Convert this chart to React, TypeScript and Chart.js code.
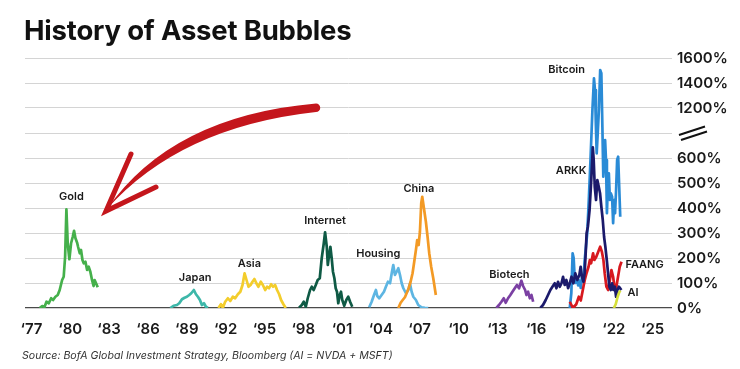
import React, { useEffect, useRef } from "react";
import { Chart, registerables } from "chart.js";
Chart.register(...registerables);

const titleText = "History of Asset Bubbles";
const sourceText = "Source: BofA Global Investment Strategy, Bloomberg (AI = NVDA + MSFT)";

const yTickLabels = ["0%", "100%", "200%", "300%", "400%", "500%", "600%", "", "1200%", "1400%", "1600%"];
const xTickYears = [1977, 1980, 1983, 1986, 1989, 1992, 1995, 1998, 2001, 2004, 2007, 2010, 2013, 2016, 2019, 2022, 2025];

const gold: [number, number][] = [[1977.64,0],[1977.83,8],[1978.0,3],[1978.16,25],[1978.34,19],[1978.52,39],[1978.67,32],[1978.85,45],[1979.03,52],[1979.18,72],[1979.37,112],[1979.49,125],[1979.6,205],[1979.7,395],[1979.8,259],[1979.93,195],[1980.06,259],[1980.19,285],[1980.29,309],[1980.4,279],[1980.53,261],[1980.6,245],[1980.73,219],[1980.83,232],[1980.94,192],[1981.04,179],[1981.17,185],[1981.3,152],[1981.42,165],[1981.55,145],[1981.68,112],[1981.8,88],[1981.88,112],[1981.99,99],[1982.12,83]];
const japan: [number, number][] = [[1987.73,0],[1987.98,9],[1988.24,12],[1988.42,19],[1988.63,35],[1988.83,41],[1989.01,45],[1989.19,52],[1989.35,59],[1989.55,72],[1989.71,55],[1989.86,45],[1990.02,32],[1990.17,12],[1990.33,19],[1990.48,5],[1990.63,0]];
const asia: [number, number][] = [[1991.45,0],[1991.64,15],[1991.79,1],[1991.97,25],[1992.18,39],[1992.36,28],[1992.56,45],[1992.74,39],[1992.95,55],[1993.14,65],[1993.31,92],[1993.47,139],[1993.62,112],[1993.77,85],[1993.93,92],[1994.08,105],[1994.23,116],[1994.38,99],[1994.54,85],[1994.72,105],[1994.88,92],[1995.06,72],[1995.21,85],[1995.36,79],[1995.52,95],[1995.67,85],[1995.83,92],[1995.98,72],[1996.14,55],[1996.29,32],[1996.47,15],[1996.65,0]];
const internet: [number, number][] = [[1997.68,1],[1997.89,12],[1998.04,25],[1998.2,5],[1998.35,39],[1998.53,72],[1998.66,85],[1998.81,72],[1998.97,92],[1999.12,112],[1999.28,119],[1999.43,199],[1999.59,259],[1999.69,303],[1999.82,245],[1999.9,172],[2000.0,212],[2000.1,245],[2000.2,199],[2000.3,145],[2000.41,119],[2000.51,79],[2000.61,65],[2000.71,19],[2000.82,52],[2000.92,65],[2001.02,32],[2001.17,9],[2001.33,32],[2001.48,45],[2001.64,23],[2001.79,5]];
const housing: [number, number][] = [[2003.1,3],[2003.29,25],[2003.47,52],[2003.62,72],[2003.72,48],[2003.88,39],[2004.06,52],[2004.24,65],[2004.39,85],[2004.55,105],[2004.71,99],[2004.86,145],[2004.96,172],[2005.09,132],[2005.22,145],[2005.35,159],[2005.48,132],[2005.61,99],[2005.74,79],[2005.94,59],[2006.12,72],[2006.25,98],[2006.38,65],[2006.51,45],[2006.71,32],[2006.89,12],[2007.15,3],[2007.4,1],[2007.66,0]];
const china: [number, number][] = [[2005.35,0],[2005.53,21],[2005.69,32],[2005.86,43],[2005.99,59],[2006.15,79],[2006.3,105],[2006.45,139],[2006.58,185],[2006.71,232],[2006.81,272],[2006.92,252],[2007.02,305],[2007.12,419],[2007.2,445],[2007.33,399],[2007.48,345],[2007.61,285],[2007.74,219],[2007.89,165],[2008.05,119],[2008.25,52]];
const biotech: [number, number][] = [[2012.93,0],[2013.13,12],[2013.32,25],[2013.5,39],[2013.65,21],[2013.83,39],[2014.01,52],[2014.17,65],[2014.35,79],[2014.52,92],[2014.68,79],[2014.86,109],[2014.99,88],[2015.15,72],[2015.25,52],[2015.38,65],[2015.51,39],[2015.64,52],[2015.77,25]];
const arkk: [number, number][] = [[2016.33,0],[2016.53,12],[2016.74,32],[2016.92,52],[2017.1,72],[2017.26,85],[2017.44,99],[2017.57,79],[2017.69,105],[2017.83,85],[2017.96,99],[2018.08,125],[2018.21,92],[2018.34,112],[2018.47,79],[2018.6,99],[2018.73,125],[2018.88,99],[2019.03,139],[2019.18,112],[2019.34,132],[2019.44,165],[2019.54,125],[2019.65,105],[2019.75,139],[2019.83,219],[2019.9,299],[2020.0,325],[2020.13,392],[2020.26,512],[2020.38,728],[2020.45,592],[2020.53,485],[2020.63,432],[2020.73,512],[2020.84,485],[2020.94,459],[2021.04,405],[2021.15,352],[2021.25,285],[2021.35,245],[2021.46,192],[2021.56,139],[2021.66,85],[2021.77,72],[2021.87,99],[2021.97,72],[2022.08,85],[2022.18,45],[2022.28,72],[2022.39,85],[2022.49,79],[2022.59,72]];
const bitcoin: [number, number][] = [[2018.6,0],[2018.72,60],[2018.82,219],[2018.9,200],[2018.97,130],[2019.05,100],[2019.15,120],[2019.25,90],[2019.35,110],[2019.45,80],[2019.55,130],[2019.65,110],[2019.75,190],[2019.85,245],[2019.95,300],[2020.07,432],[2020.2,592],[2020.35,1176],[2020.47,1437],[2020.55,1344],[2020.62,975],[2020.68,656],[2020.76,896],[2020.85,1176],[2020.95,1504],[2021.04,1478],[2021.12,975],[2021.19,525],[2021.26,592],[2021.33,816],[2021.4,592],[2021.47,379],[2021.54,485],[2021.62,539],[2021.7,432],[2021.77,459],[2021.87,445],[2021.95,339],[2022.03,432],[2022.1,379],[2022.18,472],[2022.26,592],[2022.34,616],[2022.42,485],[2022.5,365]];
const faang: [number, number][] = [[2018.6,25],[2018.85,0],[2019.1,15],[2019.3,45],[2019.45,30],[2019.6,70],[2019.75,110],[2019.9,140],[2020.05,165],[2020.15,192],[2020.25,179],[2020.4,219],[2020.5,192],[2020.65,205],[2020.8,225],[2020.95,245],[2021.08,225],[2021.2,192],[2021.3,139],[2021.43,85],[2021.56,72],[2021.7,112],[2021.82,152],[2021.95,125],[2022.08,72],[2022.2,85],[2022.33,125],[2022.46,165],[2022.6,185]];
const ai: [number, number][] = [[2022.0,0],[2022.15,15],[2022.3,45],[2022.4,60],[2022.5,70]];

// drawing order: first is on top
const seriesNames = ["AI", "ARKK", "FAANG", "Bitcoin", "Biotech", "China", "Housing", "Internet", "Asia", "Japan", "Gold"];
const seriesData = [ai, arkk, faang, bitcoin, biotech, china, housing, internet, asia, japan, gold];
const seriesColors = ["#d5df3a", "#1b1a6b", "#d7191f", "#2a8bd6", "#7b40a3", "#f39a25", "#5db5e2", "#0f5a45", "#f3cd2c", "#3db7a9", "#45b04b"];

// label anchors: [text, year, value %]
const seriesLabels: [string, number, number][] = [
  ["Gold", 1980.09, 444], ["Japan", 1989.65, 121], ["Asia", 1993.84, 179], ["Internet", 1999.69, 349],
  ["Housing", 2003.8, 216], ["China", 2006.94, 479], ["Biotech", 2013.94, 132], ["Bitcoin", 2018.36, 1508],
  ["ARKK", 2018.71, 550], ["FAANG", 2024.38, 172], ["AI", 2023.49, 62],
];

// broken axis: 0-600 linear, 600-1200 compressed into two slots, 1200-1600 at 200 per slot
function toSlot(v: number): number {
  if (v <= 600) return v / 100;
  if (v <= 1200) return 6 + (v - 600) / 300;
  return 8 + (v - 1200) / 200;
}

const FONT = "Inter, 'Noto Sans', sans-serif";

const overlay = {
  id: "overlay",
  afterDraw(chart: any) {
    const { ctx, scales, chartArea } = chart;
    const x = scales.x, y = scales.y;
    ctx.save();
    ctx.fillStyle = "#111";
    ctx.textAlign = "left";
    ctx.textBaseline = "alphabetic";
    ctx.font = `700 27.5px ${FONT}`;
    try { (ctx as any).letterSpacing = "-0.2px"; } catch (e) {}
    ctx.fillText(titleText, 24, 40);
    try { (ctx as any).letterSpacing = "0px"; } catch (e) {}
    ctx.font = `italic 400 10.6px ${FONT}`;
    ctx.fillStyle = "#333";
    ctx.fillText(sourceText, 22, 359);

    ctx.font = `600 11px ${FONT}`;
    ctx.fillStyle = "#1a1a1a";
    ctx.textAlign = "center";
    ctx.textBaseline = "middle";
    seriesLabels.forEach(([t, yr, v]) => {
      ctx.fillText(t, x.getPixelForValue(yr), y.getPixelForValue(toSlot(v)));
    });

    // axis break marks
    const by = y.getPixelForValue(7);
    const bx = chartArea.right;
    ctx.strokeStyle = "#111";
    ctx.lineWidth = 2;
    ctx.beginPath();
    ctx.moveTo(bx + 7, by + 2); ctx.lineTo(bx + 33, by - 6.5);
    ctx.moveTo(bx + 9, by + 7); ctx.lineTo(bx + 35, by - 1.5);
    ctx.stroke();

    // red arrow
    ctx.fillStyle = "#c4161c";
    ctx.strokeStyle = "#c4161c";
    ctx.beginPath();
    ctx.moveTo(316, 103.5);
    ctx.quadraticCurveTo(172, 116, 107, 209);
    ctx.quadraticCurveTo(180, 127, 316, 112);
    ctx.arc(316, 107.75, 4.25, Math.PI / 2, -Math.PI / 2, true);
    ctx.closePath();
    ctx.fill();
    ctx.lineWidth = 5;
    ctx.lineCap = "round";
    ctx.beginPath();
    ctx.moveTo(131, 154); ctx.lineTo(106, 211); ctx.lineTo(156, 187);
    ctx.stroke();
    ctx.restore();
  },
};

export default function App() {
  const ref = useRef<HTMLCanvasElement | null>(null);
  useEffect(() => {
    document.body.style.margin = "0";
    if (!ref.current) return;
    const chart = new Chart(ref.current, {
      type: "line",
      data: {
        datasets: seriesNames.map((name, i) => ({
          label: name,
          data: seriesData[i].map(([yr, v]) => ({ x: yr, y: toSlot(v) })),
          borderColor: seriesColors[i],
          backgroundColor: seriesColors[i],
          borderWidth: 2.7,
          pointRadius: 0,
          tension: 0,
          borderJoinStyle: "round" as const,
          fill: false,
        })),
      },
      options: {
        animation: false,
        responsive: false,
        devicePixelRatio: 1,
        layout: { padding: { top: 58, left: 25, right: 5, bottom: 31 } },
        plugins: { legend: { display: false }, tooltip: { enabled: false }, title: { display: false } },
        scales: {
          x: {
            type: "linear",
            min: 1976.5,
            max: 2026.5,
            grid: { display: false },
            border: { display: false },
            afterBuildTicks: (s: any) => { s.ticks = xTickYears.map((v) => ({ value: v })); },
            afterFit: (s: any) => { s.height = 30; },
            ticks: {
              autoSkip: false,
              maxRotation: 0,
              padding: 4,
              color: "#1a1a1a",
              font: { family: FONT, size: 15, weight: "600" },
              callback: (v: any) => "\u2018" + String(Number(v) % 100).padStart(2, "0"),
            },
          },
          y: {
            type: "linear",
            position: "right",
            min: 0,
            max: 10,
            afterBuildTicks: (s: any) => { s.ticks = yTickLabels.map((_, i) => ({ value: i })); },
            afterFit: (s: any) => { s.width = 63; },
            grid: {
              drawTicks: false,
              color: (c: any) => (c.tick && c.tick.value === 0 ? "#4a4a4a" : "#d4d4d4"),
              lineWidth: (c: any) => (c.tick && c.tick.value === 0 ? 1.3 : 1),
            },
            border: { display: false },
            ticks: {
              padding: 5,
              color: "#1a1a1a",
              font: { family: FONT, size: 15, weight: "600" },
              callback: (v: any) => yTickLabels[Math.round(Number(v))] ?? "",
            },
          },
        },
      },
      plugins: [overlay],
    });
    return () => chart.destroy();
  }, []);
  return <canvas ref={ref} width={740} height={369} style={{ display: "block" }} />;
}
